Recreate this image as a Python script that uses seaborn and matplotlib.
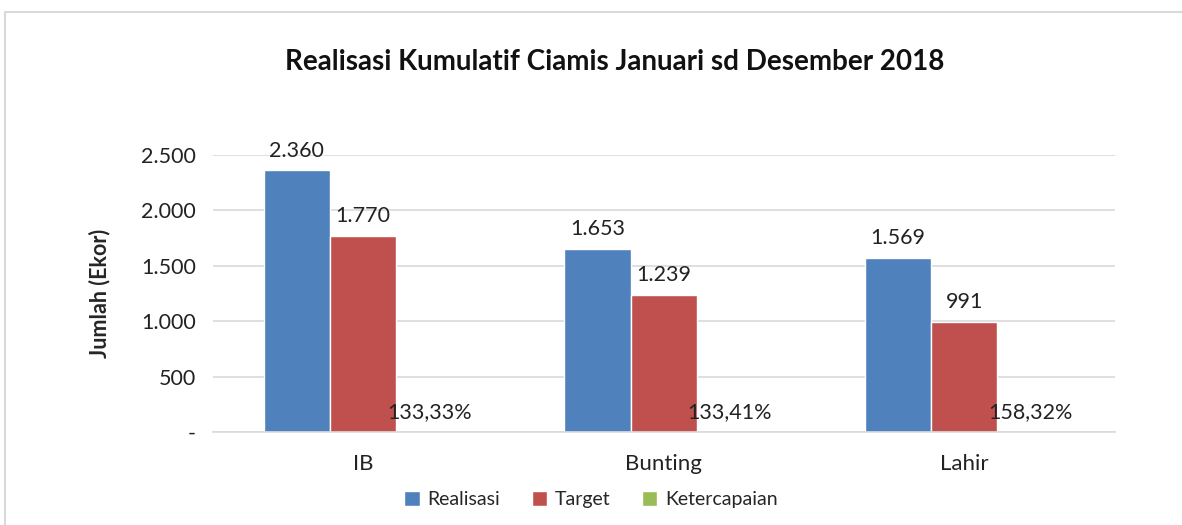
import numpy as np
import pandas as pd
import matplotlib
matplotlib.use("Agg")
import matplotlib.pyplot as plt
from matplotlib.patches import Rectangle
from matplotlib.ticker import FixedLocator, FuncFormatter
import seaborn as sns

# ── Data ─────────────────────────────────────────────────────────────────────
kategori = ["IB", "Bunting", "Lahir"]
realisasi = [2360, 1653, 1569]
target = [1770, 1239, 991]
ketercapaian = [1.3333, 1.3341, 1.5832]   # ratio, drawn as (nearly invisible) bars

seri = ["Realisasi", "Target", "Ketercapaian"]
COLORS = ["#4F81BD", "#C0504D", "#9BBB59"]

df = pd.DataFrame({
    "kategori": kategori * 3,
    "seri": np.repeat(seri, 3),
    "nilai": realisasi + target + ketercapaian,
})

sns.set_theme(style="white")
plt.rcParams["font.family"] = ["Lato", "DejaVu Sans"]

fig = plt.figure(figsize=(11.82, 5.25), dpi=100)
# light chart border (Excel style)
fig.patches.append(Rectangle((0.004, -0.2), 1.2, 0.2 + 0.977, transform=fig.transFigure,
                             fill=False, edgecolor="#D9D9D9", lw=1.5))
ax = fig.add_axes([0.180, 0.177, 0.763, 0.528])

sns.barplot(data=df, x="kategori", y="nilai", hue="seri", palette=COLORS,
            width=0.66, saturation=1, ax=ax, legend=True)

ax.set_ylim(0, 2500)
ax.yaxis.set_major_locator(FixedLocator([0, 500, 1000, 1500, 2000, 2500]))
ax.yaxis.set_major_formatter(FuncFormatter(
    lambda v, p: "-" if v == 0 else f"{v:,.0f}".replace(",", ".")))
ax.grid(axis="y", color="#D9D9D9", lw=1.2)
ax.set_axisbelow(True)
for s in ["top", "right", "left"]:
    ax.spines[s].set_visible(False)
ax.spines["bottom"].set_color("#D9D9D9")
ax.spines["bottom"].set_linewidth(1.2)
ax.tick_params(axis="y", length=0, labelsize=15.5, colors="#222222", pad=12)
ax.tick_params(axis="x", length=0, labelsize=16, colors="#222222", pad=16)
ax.set_xlabel("")
ax.set_ylabel("Jumlah (Ekor)", fontsize=15.5, fontweight="bold", labelpad=22)
ax.set_xlim(-0.5, 2.5)

# ── Data labels ──────────────────────────────────────────────────────────────
for cont, name in zip(ax.containers, seri):
    if name == "Ketercapaian":
        labels = [f"{b.get_height() * 100:.2f}%".replace(".", ",") for b in cont]
    else:
        labels = [f"{b.get_height():,.0f}".replace(",", ".") for b in cont]
    ax.bar_label(cont, labels=labels, padding=7, fontsize=15.5, color="#222222")

fig.text(615 / 1182, 1 - 62 / 525, "Realisasi Kumulatif Ciamis Januari sd Desember 2018",
         fontsize=20, fontweight="bold", ha="center", va="center", color="#111111")

handles, labs = ax.get_legend_handles_labels()
ax.legend_.remove()
fig.legend(handles, labs, loc="center", bbox_to_anchor=(0.5, 0.048), ncol=3,
           frameon=False, fontsize=14, handlelength=0.8, handleheight=0.8,
           handletextpad=0.4, columnspacing=1.6)

fig.savefig("out.png", dpi=100)
